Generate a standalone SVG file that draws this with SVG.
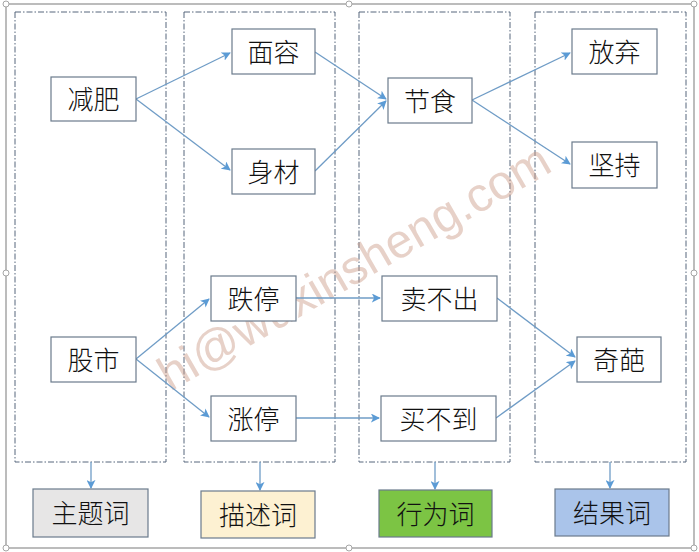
<svg xmlns="http://www.w3.org/2000/svg" width="699" height="552" viewBox="0 0 699 552">
<defs>
<marker id="arr" viewBox="0 0 10 10" refX="9" refY="5" markerWidth="9" markerHeight="9" markerUnits="userSpaceOnUse" orient="auto">
<path d="M0,0 L10,5 L0,10 L2.5,5 Z" fill="#5b9bd5"/>
</marker>
<style>
.frame{fill:none;stroke:#a6a6a6;stroke-width:1.5}
.handle{fill:#fff;stroke:#a6a6a6;stroke-width:1}
.col{fill:none;stroke:#56677c;stroke-width:1;stroke-dasharray:6 2 1.5 2}
.node rect{fill:#fff;stroke:#6b7b8c;stroke-width:1.2}
.node text{font-family:"Noto Sans CJK SC","Noto Sans CJK JP",sans-serif;font-size:26px;font-weight:300;fill:#111;text-anchor:middle;dominant-baseline:central}
.conn path{fill:none;stroke:#6f9cc6;stroke-width:1.3;marker-end:url(#arr)}
.wm{font-family:"Liberation Sans",Arial,sans-serif;font-size:48px;fill:#c99a86;fill-opacity:0.45}
</style>
</defs>
<rect width="699" height="552" fill="#fff"/>
<rect class="frame" x="6" y="4" width="688" height="544"/>
<g id="handles">
<circle class="handle" cx="6" cy="4" r="3"/><circle class="handle" cx="349" cy="4" r="3"/><circle class="handle" cx="694" cy="4" r="3"/>
<circle class="handle" cx="6" cy="273" r="3"/><circle class="handle" cx="694" cy="273" r="3"/>
<circle class="handle" cx="6" cy="548" r="3"/><circle class="handle" cx="349" cy="548" r="3"/><circle class="handle" cx="694" cy="548" r="3"/>
</g>
<g id="columns">
<rect class="col" x="15" y="12" width="151" height="450"/>
<rect class="col" x="184" y="12" width="151" height="450"/>
<rect class="col" x="359" y="12" width="151" height="450"/>
<rect class="col" x="535" y="12" width="151" height="450"/>
</g>
<text class="wm" transform="translate(170,392) rotate(-30)">hi@wuxinsheng.com</text>
<g id="connectors" class="conn">
<path d="M136,99 L230,53"/>
<path d="M136,99 L230,170"/>
<path d="M315,52 L386,99"/>
<path d="M315,171 L386,101"/>
<path d="M472,100 L570,53"/>
<path d="M472,100 L570,164"/>
<path d="M136,359 L209,299"/>
<path d="M136,359 L209,417"/>
<path d="M296,298 L380,298"/>
<path d="M296,418 L379,418"/>
<path d="M497,298 L575,357"/>
<path d="M496,418 L575,361"/>
<path d="M91,462 L91,488"/>
<path d="M260,462 L260,490"/>
<path d="M435,462 L435,489"/>
<path d="M610,462 L610,488"/>
</g>
<g id="n-jianfei" class="node"><rect x="51" y="77" width="85" height="44"/><text x="93.5" y="97.5">减肥</text></g>
<g id="n-mianrong" class="node"><rect x="232" y="29" width="83" height="45"/><text x="273.5" y="50">面容</text></g>
<g id="n-shencai" class="node"><rect x="232" y="149" width="83" height="45"/><text x="273.5" y="170">身材</text></g>
<g id="n-jieshi" class="node"><rect x="388" y="78" width="84" height="45"/><text x="430" y="99">节食</text></g>
<g id="n-fangqi" class="node"><rect x="572" y="29" width="85" height="45"/><text x="614.5" y="50">放弃</text></g>
<g id="n-jianchi" class="node"><rect x="572" y="142" width="85" height="46"/><text x="614.5" y="163.5">坚持</text></g>
<g id="n-gushi" class="node"><rect x="51" y="337" width="85" height="45"/><text x="93.5" y="358">股市</text></g>
<g id="n-dieting" class="node"><rect x="211" y="276" width="85" height="45"/><text x="253.5" y="297">跌停</text></g>
<g id="n-zhangting" class="node"><rect x="211" y="396" width="85" height="45"/><text x="253.5" y="417">涨停</text></g>
<g id="n-maibuchu" class="node"><rect x="382" y="276" width="115" height="45"/><text x="439.5" y="297">卖不出</text></g>
<g id="n-maibudao" class="node"><rect x="381" y="396" width="115" height="45"/><text x="438.5" y="417">买不到</text></g>
<g id="n-qipa" class="node"><rect x="577" y="337" width="84" height="45"/><text x="619" y="358">奇葩</text></g>
<g id="l-zhuti" class="node"><rect x="33" y="489" width="115" height="48" style="fill:#e7e6e6"/><text x="90.5" y="511.5">主题词</text></g>
<g id="l-miaoshu" class="node"><rect x="201" y="491" width="114" height="47" style="fill:#fdf1d2"/><text x="258" y="513">描述词</text></g>
<g id="l-xingwei" class="node"><rect x="379" y="490" width="113" height="47" style="fill:#7cc444"/><text x="435.5" y="512">行为词</text></g>
<g id="l-jieguo" class="node"><rect x="555" y="489" width="114" height="47" style="fill:#aac4ea"/><text x="612" y="511">结果词</text></g>
</svg>
